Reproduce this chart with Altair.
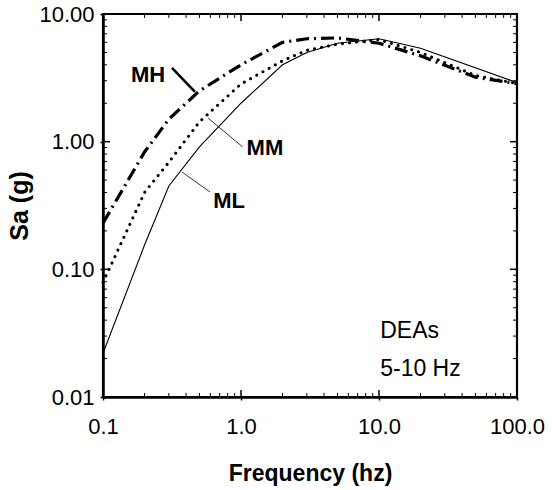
import altair as alt
import pandas as pd

# ---- data ----
freq_ml = [0.1, 0.2, 0.3, 0.5, 1.0, 2.0, 3.0, 5.0, 10.0, 20.0, 100.0]
sa_ml = [0.022, 0.155, 0.45, 0.91, 2.0, 4.0, 5.0, 5.9, 6.4, 5.4, 2.9]

freq_mm = [0.1, 0.2, 0.3, 0.5, 1.0, 2.0, 3.0, 5.0, 10.0, 20.0, 50.0, 100.0]
sa_mm = [0.079, 0.40, 0.69, 1.43, 2.83, 4.3, 5.2, 5.8, 6.3, 5.0, 3.3, 2.85]

freq_mh = [0.1, 0.2, 0.3, 0.5, 1.0, 2.0, 3.0, 5.0, 10.0, 20.0, 50.0, 100.0]
sa_mh = [0.23, 0.83, 1.5, 2.5, 4.0, 6.0, 6.4, 6.5, 5.9, 4.7, 3.2, 2.85]

x_major = [0.1, 1.0, 10.0, 100.0]
y_major = [0.01, 0.1, 1.0, 10.0]
x_minor = [m * d for d in [0.1, 1.0, 10.0] for m in range(2, 10)]
y_minor = [m * d for d in [0.01, 0.1, 1.0] for m in range(2, 10)]

label_text = ["MH", "MM", "ML"]
label_freq = [0.212, 1.49, 0.82]
label_sa = [3.33, 0.89, 0.343]

leader_f1 = [0.316, 0.577, 0.373]
leader_s1 = [3.78, 1.53, 0.579]
leader_f2 = [0.464, 1.03, 0.596]
leader_s2 = [2.45, 0.908, 0.404]
leader_w = [2.5, 0.8, 0.8]

note_text = ["DEAs", "5-10 Hz"]
note_freq = [10.2, 10.2]
note_sa = [0.0329, 0.0166]

W, H = 414, 383
FONT = "Liberation Sans"

def df(f, s):
    return pd.DataFrame({"freq": f, "sa": s})

xs = alt.Scale(type="log", domain=[0.1, 100], nice=False)
ys = alt.Scale(type="log", domain=[0.01, 10], nice=False)

xaxis = alt.Axis(values=x_major, format=".1f", title="Frequency (hz)", grid=False,
                 tickSize=3, tickWidth=1.5, tickColor="black", labelPadding=16,
                 labelFlush=False, labelOverlap=False,
                 labelFontSize=22, labelFont=FONT, labelColor="black",
                 titleFontSize=23, titleFont=FONT, titleFontWeight="bold",
                 titleColor="black", titlePadding=25,
                 domainColor="black", domainWidth=2.5)
yaxis = alt.Axis(values=y_major, format=".2f", title="Sa (g)", grid=False,
                 tickSize=3, tickWidth=1.5, tickColor="black", labelPadding=6,
                 labelFlush=False, labelOverlap=False,
                 labelFontSize=22, labelFont=FONT, labelColor="black",
                 titleFontSize=25, titleFont=FONT, titleFontWeight="bold",
                 titleColor="black", titlePadding=6,
                 domainColor="black", domainWidth=2.5)

base_ml = alt.Chart(df(freq_ml, sa_ml)).mark_line(color="black", strokeWidth=1.1).encode(
    x=alt.X("freq:Q", scale=xs, axis=xaxis),
    y=alt.Y("sa:Q", scale=ys, axis=yaxis),
)
line_mm = alt.Chart(df(freq_mm, sa_mm)).mark_line(
    color="black", strokeWidth=3, strokeDash=[0.1, 7], strokeCap="round"
).encode(x=alt.X("freq:Q", scale=xs), y=alt.Y("sa:Q", scale=ys))
line_mh = alt.Chart(df(freq_mh, sa_mh)).mark_line(
    color="black", strokeWidth=3.2, strokeDash=[13, 5, 2, 5]
).encode(x=alt.X("freq:Q", scale=xs), y=alt.Y("sa:Q", scale=ys))

# inward ticks
def xticks(vals, y0, y1, w):
    return alt.Chart(pd.DataFrame({"freq": vals})).mark_rule(color="black", strokeWidth=w).encode(
        x=alt.X("freq:Q", scale=xs), y=alt.value(y0), y2=alt.value(y1))

def yticks(vals, x0, x1, w):
    return alt.Chart(pd.DataFrame({"sa": vals})).mark_rule(color="black", strokeWidth=w).encode(
        y=alt.Y("sa:Q", scale=ys), x=alt.value(x0), x2=alt.value(x1))

ticks = [
    xticks(x_minor, H, H - 4, 1), xticks(x_minor, 0, 4, 1),
    xticks(x_major[1:3], H, H - 7, 1.5), xticks(x_major[1:3], 0, 7, 1.5),
    yticks(y_minor, 0, 4, 1), yticks(y_minor, W, W - 4, 1),
    yticks(y_major[1:3], 0, 7, 1.5), yticks(y_major[1:3], W, W - 7, 1.5),
]

labels = alt.Chart(pd.DataFrame({"freq": label_freq, "sa": label_sa, "t": label_text})).mark_text(
    font=FONT, fontSize=22, fontWeight="bold", color="black", align="center", baseline="middle"
).encode(x=alt.X("freq:Q", scale=xs), y=alt.Y("sa:Q", scale=ys), text="t:N")

leaders = [
    alt.Chart(pd.DataFrame({"f1": [leader_f1[i]], "s1": [leader_s1[i]],
                            "f2": [leader_f2[i]], "s2": [leader_s2[i]]}))
    .mark_rule(color="black", strokeWidth=leader_w[i])
    .encode(x=alt.X("f1:Q", scale=xs), y=alt.Y("s1:Q", scale=ys), x2="f2:Q", y2="s2:Q")
    for i in range(3)
]

notes = alt.Chart(pd.DataFrame({"freq": note_freq, "sa": note_sa, "t": note_text})).mark_text(
    font=FONT, fontSize=23, color="black", align="left", baseline="middle"
).encode(x=alt.X("freq:Q", scale=xs), y=alt.Y("sa:Q", scale=ys), text="t:N")

chart = alt.layer(base_ml, line_mm, line_mh, *ticks, *leaders, labels, notes).properties(
    width=W, height=H,
    autosize=alt.AutoSizeParams(type="none"),
    padding={"left": 103, "top": 14, "right": 35, "bottom": 93},
    background="white",
).configure_view(stroke="black", strokeWidth=2.2)

chart.save("out.html", embed_options={"renderer": "svg", "actions": False})
